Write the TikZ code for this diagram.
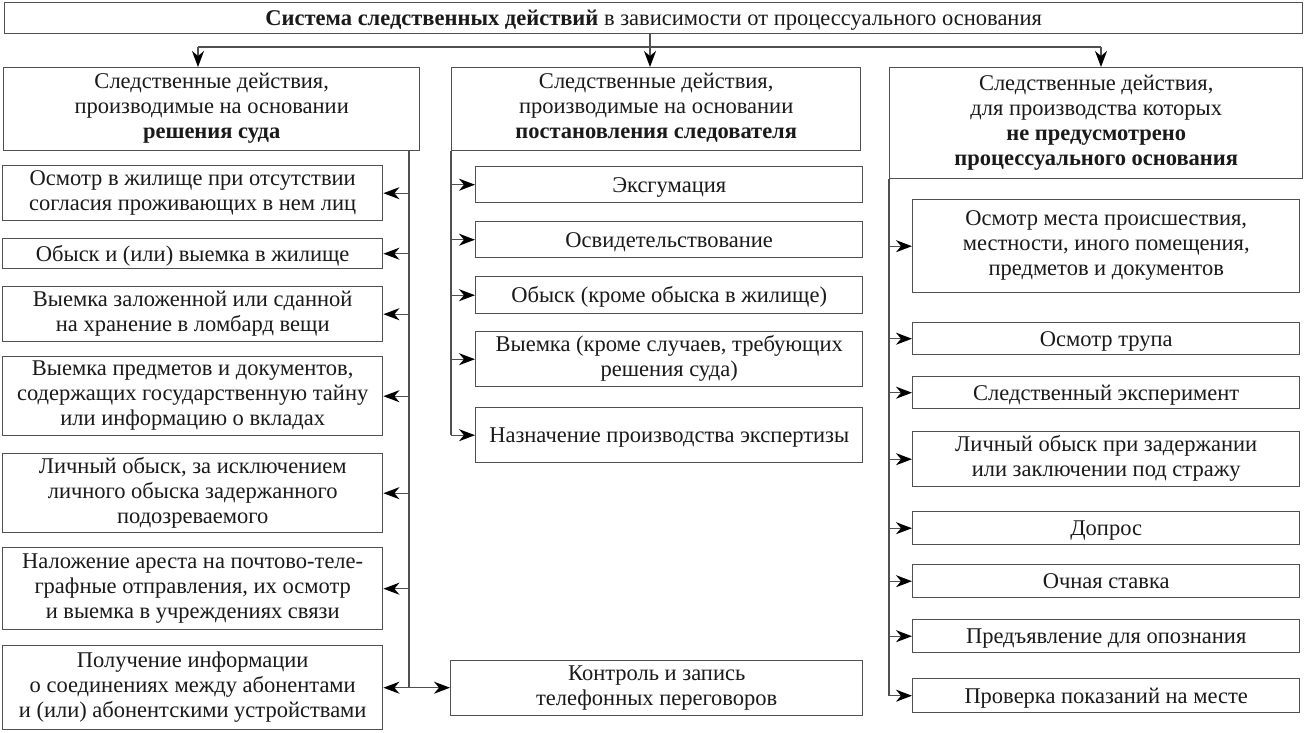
\documentclass[tikz,border=0pt]{standalone}
\usepackage{fontspec}
\setmainfont{Liberation Serif}
\usetikzlibrary{arrows.meta}
\definecolor{linegray}{HTML}{505050}
\definecolor{txt}{HTML}{1A1A1A}
\begin{document}
\begin{tikzpicture}[x=1pt,y=-1pt,
  box/.style={draw=linegray, line width=1.4pt, inner sep=0pt, align=center, anchor=north west,
    text=txt, font=\fontsize{22.5}{25}\selectfont,
    execute at begin node={\rule{0pt}{21pt}},
    execute at end node={\rule[-6pt]{0pt}{6pt}}},
  conn/.style={draw=linegray, line width=1.4pt},
  arr/.style={conn, -{Stealth[length=16pt,width=12pt,inset=5pt,color=black]}},
  arrb/.style={conn, {Stealth[length=16pt,width=12pt,inset=5pt,color=black]}-{Stealth[length=16pt,width=12pt,inset=5pt,color=black]}}]
\useasboundingbox (0,0) rectangle (1304,732);
\fill[white] (0,0) rectangle (1304,732);
% title
\node[box, minimum width=1298pt, minimum height=31pt] (title) at (4,2)
  {\textbf{Система следственных действий} в зависимости от процессуального основания};
% headers
\node[box, minimum width=416pt, minimum height=83pt] (hL) at (3,67)
  {Следственные действия,\\производимые на основании\\\textbf{решения суда}};
\node[box, minimum width=409pt, minimum height=83pt] (hM) at (451,67)
  {Следственные действия,\\производимые на основании\\\textbf{постановления следователя}};
\node[box, minimum width=413pt, minimum height=111pt] (hR) at (889,67)
  {Следственные действия,\\для производства которых\\\textbf{не предусмотрено}\\\textbf{процессуального основания}};
% left items
\node[box, minimum width=380pt, minimum height=55pt] (L1) at (2,165)
  {Осмотр в жилище при отсутствии\\согласия проживающих в нем лиц};
\node[box, minimum width=380pt, minimum height=30pt] (L2) at (2,238)
  {Обыск и (или) выемка в жилище};
\node[box, minimum width=380pt, minimum height=55pt] (L3) at (2,286)
  {Выемка заложенной или сданной\\на хранение в ломбард вещи};
\node[box, minimum width=380pt, minimum height=79pt] (L4) at (2,356)
  {Выемка предметов и документов,\\содержащих государственную тайну\\или информацию о вкладах};
\node[box, minimum width=380pt, minimum height=79pt] (L5) at (2,453)
  {Личный обыск, за исключением\\личного обыска задержанного\\подозреваемого};
\node[box, minimum width=380pt, minimum height=82pt] (L6) at (2,547)
  {Наложение ареста на почтово-теле-\\графные отправления, их осмотр\\и выемка в учреждениях связи};
\node[box, minimum width=380pt, minimum height=84pt] (L7) at (2,645)
  {Получение информации\\о соединениях между абонентами\\и (или) абонентскими устройствами};
% middle items
\node[box, minimum width=387pt, minimum height=36pt] (M1) at (475,166) {Эксгумация};
\node[box, minimum width=387pt, minimum height=36pt] (M2) at (475,221) {Освидетельствование};
\node[box, minimum width=387pt, minimum height=37pt] (M3) at (475,276) {Обыск (кроме обыска в жилище)};
\node[box, minimum width=387pt, minimum height=55pt] (M4) at (475,331)
  {Выемка (кроме случаев, требующих\\решения суда)};
\node[box, minimum width=387pt, minimum height=55pt] (M5) at (475,407) {Назначение производства экспертизы};
\node[box, minimum width=412pt, minimum height=55pt] (M6) at (450,660)
  {Контроль и запись\\телефонных переговоров};
% right items
\node[box, minimum width=387pt, minimum height=93pt] (R1) at (912,199)
  {Осмотр места происшествия,\\местности, иного помещения,\\предметов и документов};
\node[box, minimum width=387pt, minimum height=32pt] (R2) at (912,322) {Осмотр трупа};
\node[box, minimum width=387pt, minimum height=32pt] (R3) at (912,376) {Следственный эксперимент};
\node[box, minimum width=387pt, minimum height=55pt] (R4) at (912,431)
  {Личный обыск при задержании\\или заключении под стражу};
\node[box, minimum width=387pt, minimum height=33pt] (R5) at (912,511) {Допрос};
\node[box, minimum width=387pt, minimum height=33pt] (R6) at (912,564) {Очная ставка};
\node[box, minimum width=387pt, minimum height=33pt] (R7) at (912,619) {Предъявление для опознания};
\node[box, minimum width=387pt, minimum height=34pt] (R8) at (912,678) {Проверка показаний на месте};
% top connectors
\coordinate (j) at (650,47);
\coordinate (jL) at (198,47);
\coordinate (jR) at (1101,47);
\draw[conn] (title.south -| j) -- (j);
\draw[conn] (jL) -- (jR);
\draw[arr] (jL) -- (jL |- hL.north);
\draw[arr] (j) -- (j |- hM.north);
\draw[arr] (jR) -- (jR |- hR.north);
% left spine
\coordinate (sL) at (409,0);
\draw[conn] (hL.south -| sL) -- (L7.east -| sL);
\foreach \n in {L1,L2,L3,L4,L5,L6} \draw[arr] (\n.east -| sL) -- (\n.east);
\draw[arrb] (L7.east) -- (L7.east -| M6.west);
% middle spine
\draw[conn] (hM.south west) -- (M5.west -| hM.south west);
\foreach \n in {M1,M2,M3,M4,M5} \draw[arr] (\n.west -| hM.south west) -- (\n.west);
% right spine
\draw[conn] (hR.south west) -- (R8.west -| hR.south west);
\foreach \n in {R1,R2,R3,R4,R5,R6,R7,R8} \draw[arr] (\n.west -| hR.south west) -- (\n.west);
\end{tikzpicture}
\end{document}
